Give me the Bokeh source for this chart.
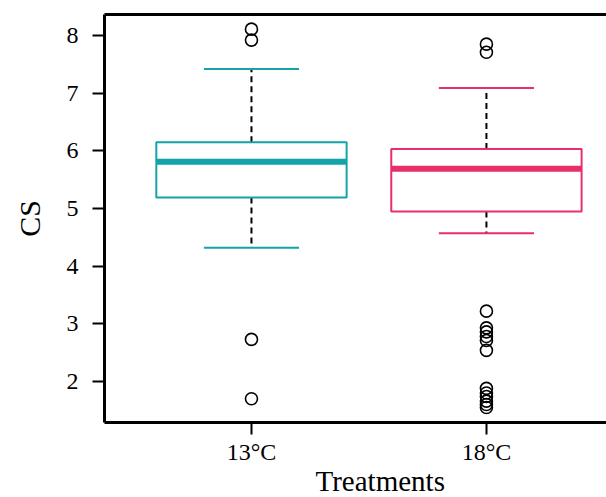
from bokeh.plotting import figure
from bokeh.models import LinearAxis, FixedTicker, Range1d, Title
from bokeh.embed import file_html
from bokeh.resources import INLINE

# ---- data ----
categories = ["13°C", "18°C"]
positions = [1, 2]
colors = ["#12a4a8", "#e5306a"]
q1 = [5.19, 4.95]
median = [5.81, 5.69]
q3 = [6.15, 6.03]
whisker_low = [4.32, 4.57]
whisker_high = [7.42, 7.09]
outliers_13 = [8.11, 7.92, 2.73, 1.70]
outliers_18 = [7.85, 7.71, 3.22, 2.93, 2.86, 2.78, 2.71, 2.54,
               1.88, 1.80, 1.74, 1.66, 1.60, 1.55]
y_ticks = [2, 3, 4, 5, 6, 7, 8]
x_title = "Treatments"
y_title = "CS"

box_width = 0.81
serif = "Liberation Serif"

p = figure(width=606, height=497, output_backend="svg", toolbar_location=None,
           x_range=Range1d(0.3745, 2.511), y_range=Range1d(1.289, 8.364),
           min_border_left=104, min_border_right=0, min_border_top=14,
           min_border_bottom=75, y_axis_label=y_title)
p.outline_line_color = None
p.grid.visible = False
p.background_fill_color = "white"
p.border_fill_color = "white"

# whiskers (dashed)
p.segment(x0=positions, y0=q3, x1=positions, y1=whisker_high,
          line_color="black", line_width=2, line_dash="6 4")
p.segment(x0=positions, y0=q1, x1=positions, y1=whisker_low,
          line_color="black", line_width=2, line_dash="6 4")
# caps
half = box_width / 4
p.segment(x0=[x - half for x in positions], y0=whisker_high,
          x1=[x + half for x in positions], y1=whisker_high,
          line_color=colors, line_width=2)
p.segment(x0=[x - half for x in positions], y0=whisker_low,
          x1=[x + half for x in positions], y1=whisker_low,
          line_color=colors, line_width=2)
# boxes
p.vbar(x=positions, width=box_width, bottom=q1, top=q3,
       fill_color="white", line_color=colors, line_width=2)
# medians
p.segment(x0=[x - box_width / 2 for x in positions], y0=median,
          x1=[x + box_width / 2 for x in positions], y1=median,
          line_color=colors, line_width=6)
# outliers
p.scatter(x=[positions[0]] * len(outliers_13), y=outliers_13, marker="circle",
          size=12, fill_color=None, line_color="black", line_width=1.6)
p.scatter(x=[positions[1]] * len(outliers_18), y=outliers_18, marker="circle",
          size=12, fill_color=None, line_color="black", line_width=1.6)

# axes styling
xa = p.xaxis[0]
xa.ticker = FixedTicker(ticks=positions)
xa.major_label_overrides = {pos: lab for pos, lab in zip(positions, categories)}
ya = p.yaxis[0]
ya.ticker = FixedTicker(ticks=y_ticks)
for ax in (xa, ya):
    ax.axis_line_width = 3
    ax.axis_line_color = "black"
    ax.major_tick_line_width = 2
    ax.major_tick_out = 12
    ax.major_tick_in = 0
    ax.minor_tick_line_color = None
    ax.major_label_text_font = serif
    ax.major_label_text_font_size = "24px"
    ax.major_label_text_color = "black"
    ax.axis_label_text_font = serif
    ax.axis_label_text_font_size = "30px"
    ax.axis_label_text_font_style = "normal"
    ax.axis_label_text_color = "black"
xa.major_label_standoff = 4
ya.major_label_standoff = 14
ya.axis_label_standoff = 18

# x-axis title below the axis, positioned to match the reference
p.add_layout(Title(text=x_title, align="left", offset=211, standoff=-10,
                   text_font=serif, text_font_size="29px",
                   text_font_style="normal", text_color="black"), "below")

top = LinearAxis(ticker=FixedTicker(ticks=[]), axis_line_width=3,
                 major_tick_line_color=None, minor_tick_line_color=None,
                 major_label_text_font_size="0px", major_label_standoff=0)
p.add_layout(top, "above")

open("out.html", "w").write(file_html(p, INLINE))
